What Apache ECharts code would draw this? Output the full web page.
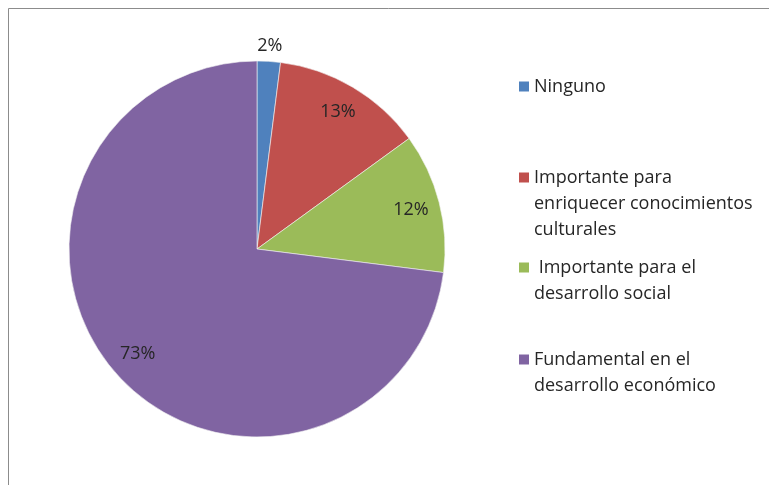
<!DOCTYPE html>
<html>
<head>
<meta charset="utf-8">
<script src="https://cdn.jsdelivr.net/npm/echarts@6/dist/echarts.min.js"></script>
<style>
  html, body { margin: 0; padding: 0; background: #fff; }
  #chart { width: 769px; height: 485px; }
</style>
</head>
<body>
<div id="chart"></div>
<script>
// Categories (legend entries, split into the lines they are printed on)
const categoryLines = [
  ['Ninguno'],
  ['Importante para', 'enriquecer conocimientos', 'culturales'],
  [' Importante para el', 'desarrollo social'],
  ['Fundamental en el', 'desarrollo económico']
];
const categories = categoryLines.map(l => l.join(' '));
// Share of answers, in percent
const values = [2, 13, 12, 73];
const colors = ['#4F81BD', '#C0504D', '#9BBB59', '#8064A2'];

const FONT = '"Open Sans", "Liberation Sans", sans-serif';
const TEXT = '#262626';
const CENTER = [257, 249];
const R = 188;
const LINE_H = 26;
// slices too thin to hold their label get it just outside the rim
const outsideLabel = values.map(v => v < 5);

const pieData = categories.map((name, i) => ({
  name, value: values[i], itemStyle: { color: colors[i] }
}));

function labelRing(showIf) {
  return categories.map((name, i) => ({
    name, value: values[i],
    label: { show: showIf(i) }
  }));
}

const labelCommon = {
  position: 'inside',
  formatter: p => p.value + '%',
  color: TEXT,
  fontFamily: FONT,
  fontSize: 18
};

// one legend per entry; blank lines above the text keep the marker
// level with the first printed line
const markerCenters = [86.5, 177.5, 267.5, 359.5];
const legends = categories.map((name, i) => {
  const n = categoryLines[i].length;
  return {
    data: [name],
    orient: 'vertical',
    left: 519,
    top: markerCenters[i] - (2 * n - 1) * LINE_H / 2,
    padding: 0,
    itemWidth: 10,
    itemHeight: 10,
    itemGap: 0,
    icon: 'rect',
    selectedMode: false,
    itemStyle: { borderWidth: 0 },
    formatter: () => new Array(n - 1).fill('').concat(categoryLines[i]).join('\n'),
    textStyle: {
      fontFamily: FONT,
      fontSize: 18,
      color: TEXT,
      lineHeight: LINE_H
    }
  };
});

const chart = echarts.init(document.getElementById('chart'), null, { renderer: 'canvas' });
chart.setOption({
  backgroundColor: '#fff',
  animation: false,
  legend: legends,
  graphic: [{
    type: 'polyline',
    shape: { points: [[8.5, 485], [8.5, 8.5], [769, 8.5]] },
    style: { stroke: '#8c8c8c', lineWidth: 1, fill: null },
    silent: true
  }],
  series: [
    {
      type: 'pie',
      center: CENTER,
      radius: [0, R],
      startAngle: 90,
      clockwise: true,
      silent: true,
      data: pieData,
      itemStyle: { borderColor: '#f4f4f4', borderWidth: 0.6 },
      label: { show: false },
      labelLine: { show: false }
    },
    {
      // labels placed inside the slices, toward the rim
      type: 'pie',
      center: CENTER,
      radius: [124, R],
      startAngle: 90,
      silent: true,
      data: labelRing(i => !outsideLabel[i]),
      itemStyle: { color: 'rgba(0,0,0,0)' },
      label: labelCommon,
      labelLine: { show: false }
    },
    {
      // labels for thin slices, just beyond the rim
      type: 'pie',
      center: CENTER,
      radius: [R + 4, R + 22],
      startAngle: 90,
      silent: true,
      data: labelRing(i => outsideLabel[i]),
      itemStyle: { color: 'rgba(0,0,0,0)' },
      label: labelCommon,
      labelLine: { show: false }
    }
  ]
});
</script>
</body>
</html>
